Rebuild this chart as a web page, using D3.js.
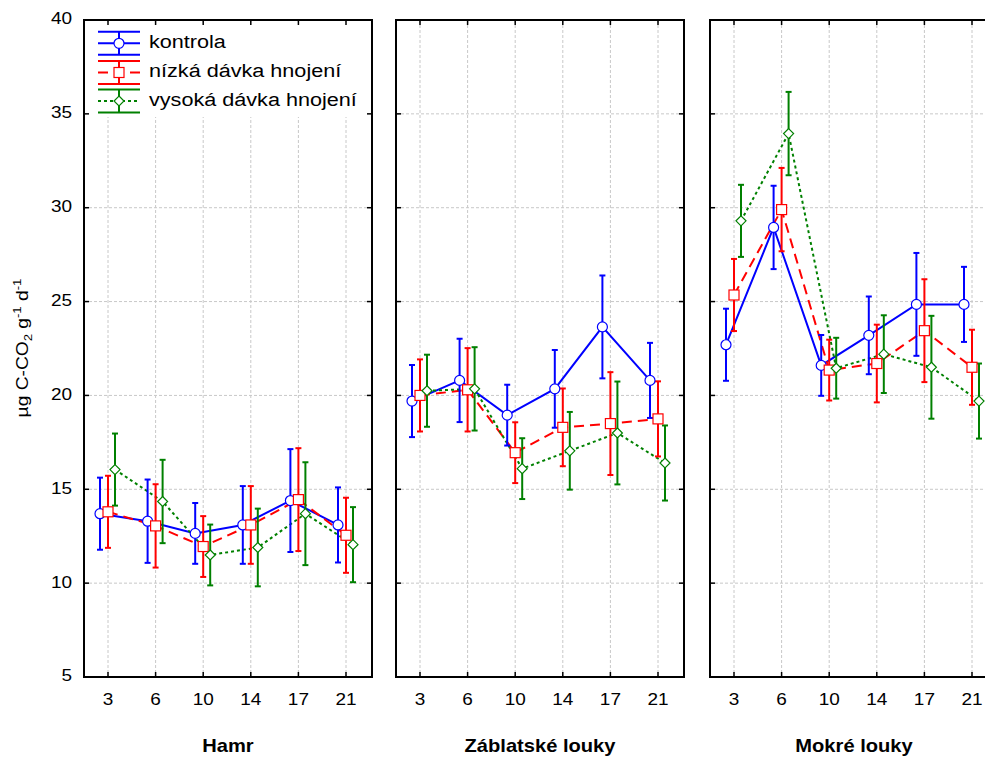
<!DOCTYPE html>
<html lang="cs">
<head>
<meta charset="UTF-8">
<title>Respirace</title>
<script src="https://d3js.org/d3.v7.min.js"></script>
<style>
  body { margin: 0; background: #fff; }
  svg { display: block; font-family: Arial, "Liberation Sans", sans-serif; }
  .frame { fill: none; stroke: #000; stroke-width: 2px; }
  .grid line { stroke: #c8c8c8; stroke-width: 1px; stroke-dasharray: 3,2; }
  .tick-lbl { font-size: 16.5px; fill: #000; }
  .panel-title { font-size: 17.5px; font-weight: bold; }
  .legend text { font-size: 18.8px; }
</style>
</head>
<body>
<div id="chart"></div>
<script>
// days of incubation
const days = [3, 6, 10, 14, 17, 21];
const sites = ["Hamr", "Záblatské louky", "Mokré louky"];
const yTicks = [5, 10, 15, 20, 25, 30, 35, 40];

// means per site
const kontrola = [
  [13.7, 13.3, 12.65, 13.1, 14.4, 13.1],
  [19.7, 20.8, 18.95, 20.35, 23.65, 20.8],
  [22.7, 28.95, 21.6, 23.2, 24.85, 24.85]
];
const nizka = [
  [13.8, 13.05, 11.95, 13.1, 14.45, 12.55],
  [20.0, 20.3, 16.95, 18.3, 18.5, 18.75],
  [25.35, 29.9, 21.35, 21.7, 23.45, 21.5]
];
const vysoka = [
  [16.05, 14.35, 11.5, 11.9, 13.7, 12.05],
  [20.25, 20.35, 16.1, 17.05, 18.0, 16.4],
  [29.3, 33.95, 21.45, 22.2, 21.5, 19.7]
];
// error bar half-width per day (same for all groups)
const errHalf = [1.92, 2.22, 1.62, 2.07, 2.74, 2.0];

const seriesNames = ["kontrola", "nízká dávka hnojení", "vysoká dávka hnojení"];

const W = 985, H = 760;
const panelLeft = [84, 396, 710];
const panelW = 288;
const plotTop = 20, plotBottom = 677;
const stretch = 1.15; // the original text is a bit wider than Arial

const series = [
  { name: seriesNames[0], data: kontrola, color: "#0000ff", dash: null, shape: "circle", dx: -8 },
  { name: seriesNames[1], data: nizka, color: "#ff0000", dash: "10,6", shape: "square", dx: 0 },
  { name: seriesNames[2], data: vysoka, color: "#008000", dash: "3,3", shape: "diamond", dx: 7 }
];

const svg = d3.select("#chart").append("svg")
  .attr("width", W).attr("height", H);

const y = d3.scaleLinear().domain([5, 40]).range([plotBottom, plotTop]);

function marker(g, shape, color, cx, cy) {
  if (shape === "circle") {
    g.append("circle").attr("cx", cx).attr("cy", cy).attr("r", 5)
      .attr("fill", "#fff").attr("stroke", color).attr("stroke-width", 1.2);
  } else if (shape === "square") {
    g.append("rect").attr("x", cx - 5).attr("y", cy - 5).attr("width", 10).attr("height", 10)
      .attr("fill", "#fff").attr("stroke", color).attr("stroke-width", 1.2);
  } else {
    g.append("path").attr("d", `M${cx},${cy - 5}L${cx + 5},${cy}L${cx},${cy + 5}L${cx - 5},${cy}Z`)
      .attr("fill", "#fff").attr("stroke", color).attr("stroke-width", 1.2);
  }
}

// text placed at (x, y), widened along its baseline
function label(g, x, y, txt, cls, anchor) {
  return g.append("text").attr("class", cls)
    .attr("transform", `translate(${x},${y}) scale(${stretch},1)`)
    .attr("text-anchor", anchor || "start")
    .attr("dominant-baseline", "middle").text(txt);
}

sites.forEach((site, si) => {
  const left = panelLeft[si];
  const right = left + panelW;
  const x = d3.scalePoint().domain(days).range([left + 24, left + 262]);
  const g = svg.append("g");

  // grid
  const grid = g.append("g").attr("class", "grid");
  days.forEach(d => grid.append("line")
    .attr("x1", x(d)).attr("x2", x(d)).attr("y1", plotTop).attr("y2", plotBottom));
  yTicks.slice(1, -1).forEach(t => grid.append("line")
    .attr("x1", left).attr("x2", right).attr("y1", y(t)).attr("y2", y(t)));

  // legend box hides grid in the first panel
  if (si === 0) {
    g.append("rect").attr("x", left + 2).attr("y", plotTop + 2)
      .attr("width", panelW - 4).attr("height", 95).attr("fill", "#fff");
  }

  // lines
  series.forEach(s => {
    const line = d3.line().x((v, i) => x(days[i]) + s.dx).y(v => y(v));
    g.append("path").datum(s.data[si])
      .attr("d", line).attr("fill", "none")
      .attr("stroke", s.color).attr("stroke-width", 2)
      .attr("stroke-dasharray", s.dash);
  });

  // error bars
  series.forEach(s => {
    s.data[si].forEach((v, i) => {
      const cx = x(days[i]) + s.dx;
      const y1 = y(v + errHalf[i]), y2 = y(v - errHalf[i]);
      g.append("line").attr("x1", cx).attr("x2", cx).attr("y1", y1).attr("y2", y2)
        .attr("stroke", s.color).attr("stroke-width", 2);
      [y1, y2].forEach(yy => g.append("line")
        .attr("x1", cx - 3).attr("x2", cx + 3).attr("y1", yy).attr("y2", yy)
        .attr("stroke", s.color).attr("stroke-width", 2));
    });
  });

  // markers
  series.forEach(s => {
    s.data[si].forEach((v, i) => marker(g, s.shape, s.color, x(days[i]) + s.dx, y(v)));
  });

  // inward ticks
  const tk = 5;
  days.forEach(d => {
    g.append("line").attr("x1", x(d)).attr("x2", x(d)).attr("y1", plotBottom).attr("y2", plotBottom - tk).attr("stroke", "#000").attr("stroke-width", 1.5);
    g.append("line").attr("x1", x(d)).attr("x2", x(d)).attr("y1", plotTop).attr("y2", plotTop + tk).attr("stroke", "#000").attr("stroke-width", 1.5);
  });
  yTicks.forEach(t => {
    g.append("line").attr("x1", left).attr("x2", left + tk).attr("y1", y(t)).attr("y2", y(t)).attr("stroke", "#000").attr("stroke-width", 1.5);
    g.append("line").attr("x1", right).attr("x2", right - tk).attr("y1", y(t)).attr("y2", y(t)).attr("stroke", "#000").attr("stroke-width", 1.5);
  });

  g.append("rect").attr("class", "frame")
    .attr("x", left).attr("y", plotTop).attr("width", panelW).attr("height", plotBottom - plotTop);

  // x tick labels
  days.forEach(d => label(g, x(d), 701, d, "tick-lbl", "middle"));

  label(g, left + panelW / 2, 747, site, "panel-title", "middle");

  // y labels only on the first panel
  if (si === 0) {
    yTicks.forEach(t => label(g, 72, y(t), t, "tick-lbl", "end"));

    // legend
    const lg = g.append("g").attr("class", "legend");
    const rowY = [43.3, 72.5, 101];
    series.forEach((s, k) => {
      const cy = rowY[k];
      lg.append("line").attr("x1", 98).attr("x2", 140).attr("y1", cy - 11.5).attr("y2", cy - 11.5).attr("stroke", s.color).attr("stroke-width", 2);
      lg.append("line").attr("x1", 98).attr("x2", 140).attr("y1", cy + 11.5).attr("y2", cy + 11.5).attr("stroke", s.color).attr("stroke-width", 2);
      lg.append("line").attr("x1", 119).attr("x2", 119).attr("y1", cy - 11.5).attr("y2", cy + 11.5).attr("stroke", s.color).attr("stroke-width", 2);
      lg.append("line").attr("x1", 98).attr("x2", 140).attr("y1", cy).attr("y2", cy)
        .attr("stroke", s.color).attr("stroke-width", 2).attr("stroke-dasharray", s.dash);
      marker(lg, s.shape, s.color, 119, cy);
      label(lg, 149, cy, s.name, null, "start");
    });
  }
});

// y axis title
const yt = svg.append("text")
  .attr("transform", "translate(28,348) rotate(-90) scale(1.2,1)")
  .attr("text-anchor", "middle").style("font-size", "16px");
yt.append("tspan").text("µg C-CO");
yt.append("tspan").attr("font-size", "11px").attr("dy", 4).text("2");
yt.append("tspan").attr("dy", -4).text(" g");
yt.append("tspan").attr("font-size", "11px").attr("dy", -7).text("-1");
yt.append("tspan").attr("dy", 7).text(" d");
yt.append("tspan").attr("font-size", "11px").attr("dy", -7).text("-1");
</script>
</body>
</html>
